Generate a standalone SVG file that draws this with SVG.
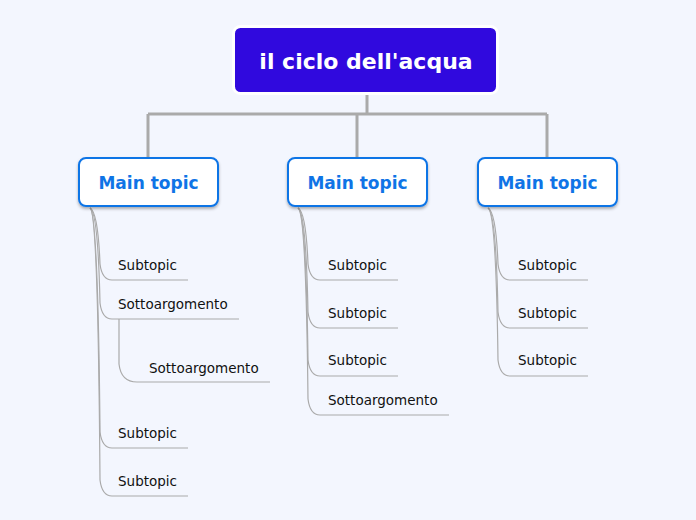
<svg xmlns="http://www.w3.org/2000/svg" width="696" height="520" viewBox="0 0 696 520">
<defs>
<style>
.bg{fill:#f3f6fe}
.root rect{fill:#3009de;stroke:#ffffff;stroke-width:3}
.root text{fill:#ffffff;font-family:"DejaVu Sans",sans-serif;font-weight:bold;font-size:22px;text-anchor:middle}
.main rect{fill:#ffffff;stroke:#0f74e6;stroke-width:2;filter:url(#sh)}
.main text{fill:#0f74e6;font-family:"DejaVu Sans",sans-serif;font-weight:bold;font-size:17px;text-anchor:middle}
.sub text{fill:#111111;font-family:"DejaVu Sans",sans-serif;font-size:13.5px}
.trunk{fill:none;stroke:#aaaaaa;stroke-width:3}
.br{fill:none;stroke:#aaaaaa;stroke-width:1.2}
</style>
<filter id="sh" x="-10%" y="-20%" width="120%" height="150%">
<feDropShadow dx="0" dy="2" stdDeviation="1.5" flood-color="#000" flood-opacity="0.3"/>
</filter>
</defs>
<rect class="bg" x="0" y="0" width="696" height="520"/>
<g id="connectors">
<path class="trunk" d="M367,95 V114 M148,114 H547 M148,114 V158 M357,114 V158 M547,114 V158"/>
<path class="br" d="M90,208 Q98,212 100,264 Q102,280 112,280 H188"/>
<path class="br" d="M90,208 Q98,212 100,303 Q102,319 112,319 H239"/>
<path class="br" d="M119,319 V364 Q121,382 137,382 H270"/>
<path class="br" d="M90,208 Q98,212 100,432 Q102,448 112,448 H188"/>
<path class="br" d="M90,208 Q98,212 100,480 Q102,496 112,496 H188"/>
<path class="br" d="M298,208 Q306,212 308,264 Q310,280 320,280 H398"/>
<path class="br" d="M298,208 Q306,212 308,312 Q310,328 320,328 H398"/>
<path class="br" d="M298,208 Q306,212 308,360 Q310,376 320,376 H398"/>
<path class="br" d="M298,208 Q306,212 308,399 Q310,415 320,415 H449"/>
<path class="br" d="M488,208 Q496,212 498,264 Q500,280 510,280 H588"/>
<path class="br" d="M488,208 Q496,212 498,312 Q500,328 510,328 H588"/>
<path class="br" d="M488,208 Q496,212 498,360 Q500,376 510,376 H588"/>
</g>
<g id="root" class="root">
<rect x="233.5" y="26.5" width="264" height="67" rx="7"/>
<text x="366" y="69">il ciclo dell'acqua</text>
</g>
<g id="main1" class="main">
<rect x="79" y="158" width="139" height="48" rx="7"/>
<text x="148.5" y="189">Main topic</text>
</g>
<g id="main2" class="main">
<rect x="288" y="158" width="139" height="48" rx="7"/>
<text x="357.5" y="189">Main topic</text>
</g>
<g id="main3" class="main">
<rect x="478" y="158" width="139" height="48" rx="7"/>
<text x="547.5" y="189">Main topic</text>
</g>
<g id="s1" class="sub"><text x="118" y="270">Subtopic</text></g>
<g id="s2" class="sub"><text x="118" y="309">Sottoargomento</text></g>
<g id="s3" class="sub"><text x="149" y="373">Sottoargomento</text></g>
<g id="s4" class="sub"><text x="118" y="438">Subtopic</text></g>
<g id="s5" class="sub"><text x="118" y="486">Subtopic</text></g>
<g id="s6" class="sub"><text x="328" y="270">Subtopic</text></g>
<g id="s7" class="sub"><text x="328" y="318">Subtopic</text></g>
<g id="s8" class="sub"><text x="328" y="365">Subtopic</text></g>
<g id="s9" class="sub"><text x="328" y="405">Sottoargomento</text></g>
<g id="s10" class="sub"><text x="518" y="270">Subtopic</text></g>
<g id="s11" class="sub"><text x="518" y="318">Subtopic</text></g>
<g id="s12" class="sub"><text x="518" y="365">Subtopic</text></g>
</svg>
